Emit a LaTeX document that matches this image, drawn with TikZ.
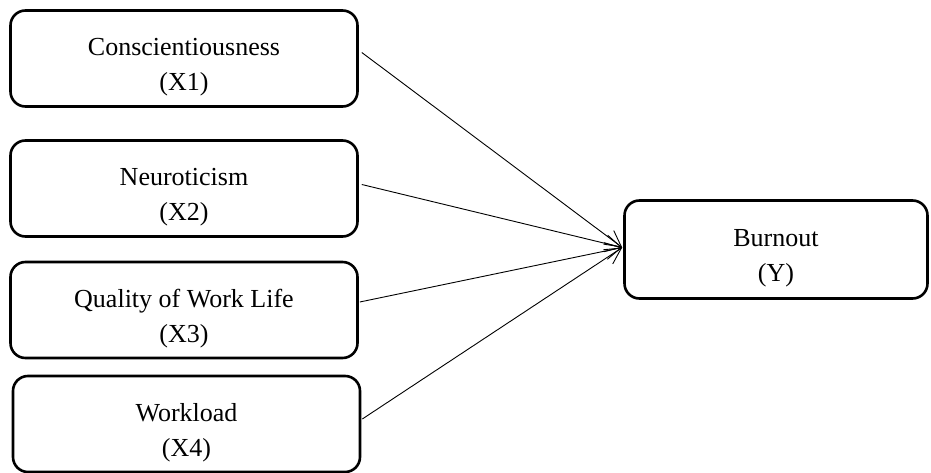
\documentclass[tikz,border=0pt]{standalone}
\usepackage{fontspec}
\setmainfont{Liberation Serif}
\usetikzlibrary{arrows.meta, calc}

\tikzset{
    varbox/.style={draw, line width=2.6pt, rounded corners=15pt, align=center,
        minimum width=347pt, minimum height=96pt, inner sep=0pt,
        font=\fontsize{26}{35}\selectfont, text height=64pt, text depth=0pt},
    link/.style={line width=0.9pt, -{Straight Barb[length=16pt, width=17pt, line width=0.9pt]}}
}

\begin{document}
\begin{tikzpicture}[x=1pt, y=-1pt]
    \useasboundingbox (0, 0) rectangle (931, 473);

    \node[varbox] (x1) at (184, 58.5) {Conscientiousness\\(X1)};
    \node[varbox] (x2) at (184, 188.5) {Neuroticism\\(X2)};
    \node[varbox] (x3) at (184, 310) {Quality of Work Life\\(X3)};
    \node[varbox] (x4) at (186.5, 424) {Workload\\(X4)};
    \node[varbox, minimum width=303pt, minimum height=98pt] (y) at (776, 249.5) {Burnout\\(Y)};

    \draw[link] ($(x1.east) + (3, -6)$) -- ($(y.west) + (-1, -2)$);
    \draw[link] ($(x2.east) + (3, -4)$) -- ($(y.west) + (-1, -2)$);
    \draw[link] ($(x3.east) + (1, -8)$) -- ($(y.west) + (-1, -2)$);
    \draw[link] ($(x4.east) + (1, -5)$) -- ($(y.west) + (-1, -2)$);
\end{tikzpicture}
\end{document}
